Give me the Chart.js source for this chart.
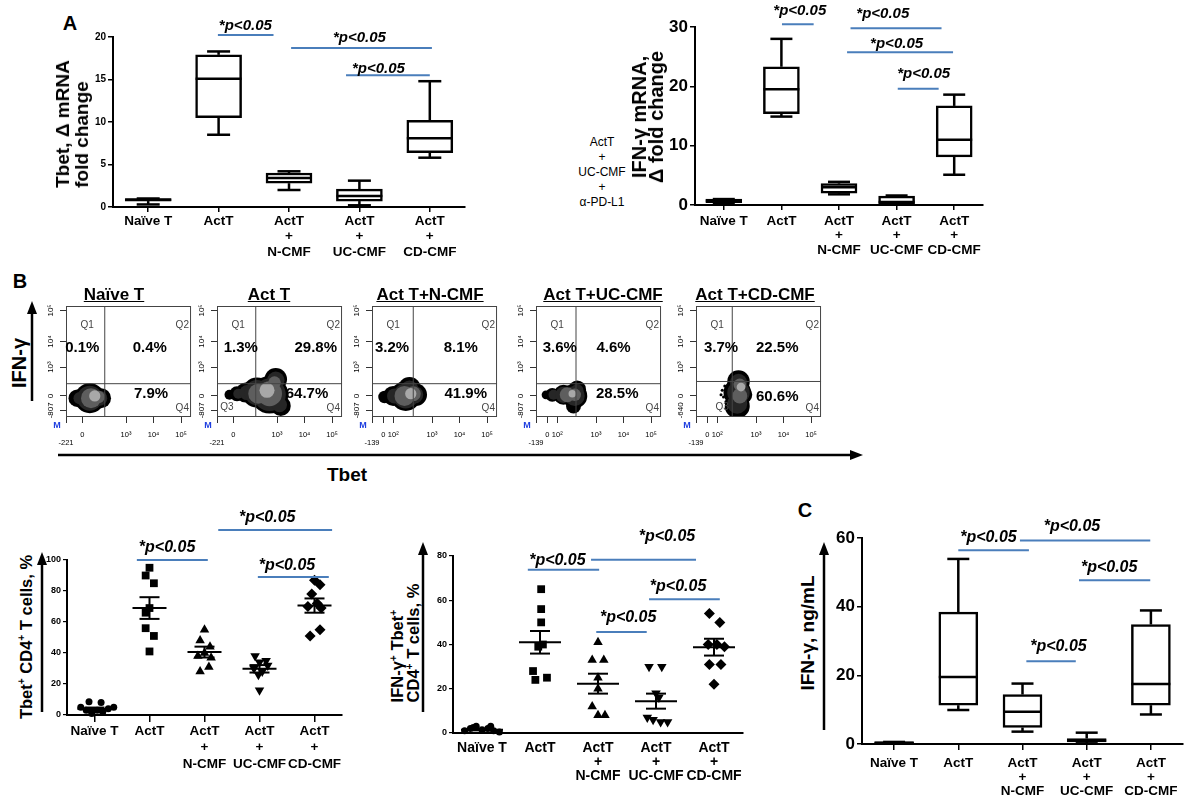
<!DOCTYPE html>
<html>
<head>
<meta charset="utf-8">
<title>Tbet / IFN-γ</title>
<script src="https://cdn.jsdelivr.net/npm/chart.js@4.4.1/dist/chart.umd.min.js"></script>
<style>
html, body { margin: 0; padding: 0; background: #fff; }
#page { position: relative; width: 1192px; height: 805px; overflow: hidden; font-family: "Liberation Sans", Arial, sans-serif; }
#page canvas { position: absolute; }
svg { position: absolute; left: 0; top: 0; }
.lbl { position: absolute; white-space: nowrap; font-weight: bold; color: #000; text-align: center; transform: translate(-50%, -50%); }
.rot { transform: translate(-50%, -50%) rotate(-90deg); }
.lbl sup { font-size: 62%; line-height: 0; }
</style>
</head>
<body>
<div id="page">
  <svg width="1192" height="805">
    <g stroke="#000" stroke-width="2.5" fill="none">
      <line x1="32" y1="401" x2="32" y2="312"/>
      <line x1="58" y1="455" x2="852" y2="455"/>
      <line x1="42" y1="712" x2="42" y2="563"/>
      <line x1="423" y1="712" x2="423" y2="553"/>
      <line x1="824" y1="730" x2="824" y2="553"/>
    </g>
    <g fill="#000">
      <polygon points="27,314 32,301 37,314"/>
      <polygon points="850,450 863,455 850,460"/>
      <polygon points="37,565 42,552 47,565"/>
      <polygon points="418,555 423,542 428,555"/>
      <polygon points="819,555 824,542 829,555"/>
    </g>
  </svg>
  <canvas id="aTbet"></canvas>
  <canvas id="aIfn"></canvas>
  <canvas id="f0"></canvas>
  <canvas id="f1"></canvas>
  <canvas id="f2"></canvas>
  <canvas id="f3"></canvas>
  <canvas id="f4"></canvas>
  <canvas id="bTbet"></canvas>
  <canvas id="bIfn"></canvas>
  <canvas id="cIfn"></canvas>
</div>
<script>
// ---- data ----
const groupLabels = [['Naïve T'], ['ActT'], ['ActT', '+', 'N-CMF'], ['ActT', '+', 'UC-CMF'], ['ActT', '+', 'CD-CMF']];
const sigText = '*p<0.05';

// A left: Tbet mRNA fold change (box plots)
const tbetMin = [0.3, 8.5, 2.0, 0.2, 5.8];
const tbetQ1  = [0.7, 10.5, 2.8, 0.7, 6.4];
const tbetMed = [0.85, 15.1, 3.4, 1.3, 8.1];
const tbetQ3  = [1.0, 17.9, 4.0, 2.1, 10.2];
const tbetMax = [1.0, 18.3, 4.2, 3.1, 14.8];

// A right: IFN-γ mRNA fold change
const ifnMin = [0.2, 14.9, 1.8, 0.1, 5.1];
const ifnQ1  = [0.4, 15.4, 2.0, 0.1, 8.1];
const ifnMed = [0.7, 19.5, 3.0, 0.5, 11.0];
const ifnQ3  = [1.0, 23.3, 3.6, 1.5, 16.7];
const ifnMax = [1.0, 28.0, 3.9, 1.6, 18.6];

// C: IFN-γ ng/mL
const cMin = [0.2, 9.9, 3.6, 0.2, 8.6];
const cQ1  = [0.3, 11.3, 4.8, 0.6, 11.3];
const cMed = [0.4, 19.5, 9.4, 1.0, 17.5];
const cQ3  = [0.6, 38.4, 14.4, 1.6, 34.8];
const cMax = [0.6, 53.9, 17.6, 3.3, 38.9];

// B bottom left: Tbet+ CD4+ T cells, %
const tbetPct = [
  [8.5, 8, 5, 4, 3, 3, 2, 1, 5],
  [95, 90, 85, 69, 66, 56, 51, 41],
  [55, 48, 44, 40, 38, 37, 31, 28],
  [38, 35, 34, 32, 30, 28, 26, 16],
  [87, 84, 78, 72, 70, 69, 55, 51]
];
const tbetSpread = [
  [-0.1, 0.12, -0.25, 0.25, -0.15, 0.05, 0.15, -0.05, 0.35],
  [0, -0.07, 0.08, 0, -0.07, -0.07, 0.08, 0],
  [0, -0.08, 0.1, 0, -0.12, 0.12, 0.08, -0.08],
  [-0.08, 0.12, 0, 0.15, -0.1, 0.05, -0.02, 0],
  [0, 0.1, -0.05, 0.05, -0.12, 0.12, 0.1, -0.08]
];
const tbetMean = [3.9, 69, 40.6, 29.8, 70.6];
const tbetSem  = [0.9, 7.0, 3.5, 2.4, 4.6];

// B bottom middle: IFN-γ+ Tbet+ CD4+ T cells, %
const dblPct = [
  [1, 2, 3, 1.5, 2, 1, 0.5, 2.5, 3],
  [65, 56, 50, 40, 39, 28, 25, 24],
  [41, 33, 33, 25, 20, 12, 8, 8],
  [30, 30, 18, 16, 7, 6, 5, 5],
  [54, 50, 40, 40, 39, 31, 31, 22]
];
const dblSpread = [
  [-0.3, -0.2, -0.1, 0, 0.1, 0.2, 0.3, -0.15, 0.15],
  [0.02, 0.02, 0.02, 0.05, -0.03, -0.12, 0.12, -0.08],
  [0, -0.1, 0.1, 0, 0, -0.1, 0, 0.12],
  [-0.12, 0.1, 0, 0.05, -0.15, -0.05, 0.08, 0.2],
  [-0.08, 0.1, -0.1, 0.05, 0.18, -0.08, 0.12, 0]
];
const dblMean = [1.5, 41, 22.3, 14.4, 38.8];
const dblSem  = [0.3, 5.1, 4.5, 3.4, 3.8];

// significance bars: [from, to, bar value, text position, text baseline value]
const sigTbet = [[0.99, 1.78, 20.24, 1.38, 20.82], [2.03, 4.03, 18.7, 3.0, 19.45], [2.81, 4.0, 15.5, 3.27, 15.8]];
const sigIfn  = [[1.01, 1.56, 30.45, 1.32, 32.0], [2.2, 3.78, 29.8, 2.76, 31.5], [2.14, 3.98, 25.75, 3.0, 26.4], [3.02, 3.73, 19.6, 3.47, 21.35]];
const sigBTbet = [[0.77, 2.06, 100, 1.32, 105.2], [2.25, 4.32, 119.4, 3.14, 124.5], [2.97, 4.26, 89, 3.5, 93.5]];
const sigBDbl  = [[0.79, 2.02, 73.8, 1.3, 75.9], [1.88, 3.69, 78.3, 3.19, 87], [2.88, 4.1, 60.5, 3.38, 64.2], [1.97, 2.84, 45.6, 2.52, 50.1]];
const sigC     = [[1.0, 2.1, 56.4, 1.47, 58.8], [1.96, 3.99, 59.3, 2.77, 62.0], [2.88, 3.99, 47.7, 3.35, 50.1], [2.06, 2.83, 24.1, 2.56, 27.1]];

// B top: flow plots (axis units 0-100 of the plot frame)
const flowTitles = ['Naïve T', 'Act T', 'Act T+N-CMF', 'Act T+UC-CMF', 'Act T+CD-CMF'];
const flowQ1 = [0.1, 1.3, 3.2, 3.6, 3.7];
const flowQ2 = [0.4, 29.8, 8.1, 4.6, 22.5];
const flowQ4 = [7.9, 64.7, 41.9, 28.5, 60.6];
const flowGateX = [31, 31, 33, 32, 29];
const flowGateY = [30, 30, 30, 30, 32];
const flowXTickVals = [[0, 13, 48, 70, 92], [0, 13, 48, 70, 92], [0, 9, 17, 48, 70, 92], [0, 9, 17, 48, 70, 92], [0, 9, 17, 48, 70, 92]];
const flowXTickText = [['-221', '0', '10³', '10⁴', '10⁵'], ['-221', '0', '10³', '10⁴', '10⁵'],
  ['-139', '0', '10²', '10³', '10⁴', '10⁵'], ['-139', '0', '10²', '10³', '10⁴', '10⁵'], ['-139', '0', '10²', '10³', '10⁴', '10⁵']];
const flowYTickVals = [6, 19, 45, 68, 96];
const flowYTickText = [['-807', '0', '10³', '10⁴', '10⁵'], ['-807', '0', '10³', '10⁴', '10⁵'], ['-807', '0', '10³', '10⁴', '10⁵'],
  ['-807', '0', '10³', '10⁴', '10⁵'], ['-640', '0', '10³', '10⁴', '10⁵']];
// event clouds: [x, y, spread]
const cloudEdge = [
  [[9, 17, 7], [19, 17, 12], [28, 17, 8]],
  [[10, 20, 4], [16, 21, 6], [23, 22, 8], [32, 22, 12], [42, 20, 15], [47, 34, 9], [51, 10, 8]],
  [[10, 18, 5], [17, 19, 8], [27, 19, 12], [35, 20, 9], [30, 26, 9]],
  [[8, 20, 3.5], [13, 20, 5.5], [22, 20, 8], [31, 19, 10], [33, 25, 7], [30, 10, 6]],
  [[33, 10, 10], [33, 22, 11], [34, 32, 9], [38, 20, 7], [22, 18, 1.2], [21, 24, 1.2], [23, 28, 1.2], [20, 20, 1.2], [24, 14, 1.2]]
];
const cloudMid = [
  [[19, 17, 10], [11, 17, 5], [27, 17, 6]],
  [[17, 21, 4], [24, 22, 6], [32, 22, 10], [42, 20, 13], [47, 33, 7], [50, 11, 6]],
  [[18, 19, 6], [27, 19, 10], [34, 20, 7], [30, 25, 7]],
  [[14, 20, 4], [22, 20, 6.5], [31, 19, 8], [33, 24, 5]],
  [[33, 12, 8], [34, 22, 9], [34, 31, 7]]
];
const cloudCore = [
  [[20, 17, 8], [26, 18, 5]],
  [[33, 21, 8], [42, 21, 10], [46, 31, 5]],
  [[26, 19, 8], [33, 21, 6]],
  [[25, 20, 6], [31, 20, 5]],
  [[35, 19, 6], [35, 29, 5]]
];
const cloudLight = [
  [[23, 19, 4.5]],
  [[40, 24, 6]],
  [[31, 21, 4.5]],
  [[29, 21, 3]],
  [[36, 27, 3.5]]
];

// ---- styling / layout ----
const SANS = '"Liberation Sans", Arial, sans-serif';
const BLUE = '#4a7ebb';
const cloudColors = ['#000', '#262626', '#5e5e5e', '#a8a8a8'];
const markerStyle = ['circle', 'rect', 'triangle', 'triangle', 'rectRot'];
const markerRot = [0, 0, 0, 180, 0];
const markerSize = [3.5, 5.5, 5.5, 5.5, 5.5];
const flowLeft = [66, 217, 372, 536, 696];
const flowTitleX = [114, 269, 430, 603, 755];
const pctX = { q1: [13, 19, 16, 19, 20], q2: [67, 79, 71, 62, 65], q4: [68, 72, 75, 65, 65] };
const pctY = { top: 62, bottom: [21, 21, 21, 21, 18] };
const q3X = [null, 8, null, null, 21];

Chart.defaults.font.family = SANS;
Chart.defaults.color = '#000';

function seg(ctx, x1, y1, x2, y2) {
  ctx.beginPath(); ctx.moveTo(x1, y1); ctx.lineTo(x2, y2); ctx.stroke();
}

function place(id, g) {
  const cv = document.getElementById(id);
  const W = g.r - g.l + g.yw + g.pr, H = g.b - g.t + g.pt + g.xh;
  cv.width = W; cv.height = H;
  cv.style.width = W + 'px'; cv.style.height = H + 'px';
  cv.style.left = (g.l - g.yw) + 'px'; cv.style.top = (g.t - g.pt) + 'px';
  return cv;
}

function sigBars(items, size) {
  return { id: 'sig', afterDraw(chart) {
    const { ctx, scales: { x, y } } = chart;
    ctx.save();
    ctx.strokeStyle = BLUE; ctx.lineWidth = 2;
    ctx.fillStyle = '#000';
    ctx.font = `italic bold ${size}px ${SANS}`;
    ctx.textAlign = 'center'; ctx.textBaseline = 'alphabetic';
    items.forEach(([x1, x2, yl, tx, ty]) => {
      const p = y.getPixelForValue(yl);
      seg(ctx, x.getPixelForValue(x1), p, x.getPixelForValue(x2), p);
      ctx.fillText(sigText, x.getPixelForValue(tx), y.getPixelForValue(ty));
    });
    ctx.restore();
  }};
}

function whiskers(st, bw, cap, lw) {
  return { id: 'whisk', afterDatasetsDraw(chart) {
    const { ctx, scales: { x, y } } = chart;
    const py = v => y.getPixelForValue(v);
    ctx.save(); ctx.strokeStyle = '#000'; ctx.lineWidth = lw;
    st.med.forEach((m, i) => {
      const cx = x.getPixelForValue(i);
      seg(ctx, cx, py(st.q3[i]), cx, py(st.max[i]));
      seg(ctx, cx - cap / 2, py(st.max[i]), cx + cap / 2, py(st.max[i]));
      seg(ctx, cx, py(st.q1[i]), cx, py(st.min[i]));
      seg(ctx, cx - cap / 2, py(st.min[i]), cx + cap / 2, py(st.min[i]));
      seg(ctx, cx - bw / 2, py(m), cx + bw / 2, py(m));
    });
    ctx.restore();
  }};
}

function meanSem(mean, sem, mw, cw) {
  return { id: 'meanSem', afterDatasetsDraw(chart) {
    const { ctx, scales: { x, y } } = chart;
    ctx.save(); ctx.strokeStyle = '#000'; ctx.lineWidth = 2;
    mean.forEach((m, i) => {
      const cx = x.getPixelForValue(i);
      const ym = y.getPixelForValue(m), yt = y.getPixelForValue(m + sem[i]), yb = y.getPixelForValue(m - sem[i]);
      seg(ctx, cx - mw / 2, ym, cx + mw / 2, ym);
      seg(ctx, cx, yt, cx, yb);
      seg(ctx, cx - cw / 2, yt, cx + cw / 2, yt);
      seg(ctx, cx - cw / 2, yb, cx + cw / 2, yb);
    });
    ctx.restore();
  }};
}

function boxChart(id, g, st, o) {
  const cv = place(id, g);
  new Chart(cv, {
    type: 'bar',
    data: { labels: groupLabels, datasets: [{
      data: st.q1.map((v, i) => [v, st.q3[i]]),
      backgroundColor: '#fff', borderColor: '#000', borderWidth: o.lw, borderSkipped: false, barThickness: o.bw
    }]},
    options: {
      responsive: false, animation: false, events: [],
      layout: { padding: { left: 0, right: g.pr, top: g.pt, bottom: 0 } },
      plugins: { legend: { display: false }, tooltip: { enabled: false } },
      scales: {
        x: {
          afterFit: s => { s.height = g.xh; },
          grid: { drawOnChartArea: false, offset: false, tickLength: o.xtick, color: '#000', lineWidth: 1.5 },
          border: { color: '#000', width: o.axw },
          ticks: { color: '#000', font: o.xfont, padding: o.xpad, maxRotation: 0, autoSkip: false }
        },
        y: {
          min: 0, max: o.max,
          afterFit: s => { s.width = g.yw; },
          ticks: { stepSize: o.step, color: '#000', font: o.yfont, padding: 2 },
          grid: { drawOnChartArea: false, tickLength: 5, color: '#000', lineWidth: 1.5 },
          border: { color: '#000', width: o.axw }
        }
      }
    },
    plugins: [whiskers(st, o.bw, o.cap, o.lw), sigBars(o.sig, o.sigSize)]
  });
}

function dotChart(id, g, vals, spread, mean, sem, o) {
  const cv = place(id, g);
  new Chart(cv, {
    type: 'scatter',
    data: { datasets: vals.map((arr, k) => ({
      data: arr.map((v, j) => ({ x: k + spread[k][j], y: v })),
      pointStyle: markerStyle[k], pointRotation: markerRot[k], pointRadius: markerSize[k],
      pointBackgroundColor: '#000', pointBorderColor: '#000', pointBorderWidth: 0, clip: false
    }))},
    options: {
      responsive: false, animation: false, events: [],
      layout: { padding: { left: 0, right: g.pr, top: g.pt, bottom: 0 } },
      plugins: { legend: { display: false }, tooltip: { enabled: false } },
      scales: {
        x: {
          type: 'linear', min: -0.5, max: 4.5,
          afterBuildTicks: s => { s.ticks = groupLabels.map((_, k) => ({ value: k })); },
          afterFit: s => { s.height = g.xh; },
          ticks: { autoSkip: false, maxRotation: 0, padding: o.xpad, callback: (v, k) => groupLabels[k], font: o.xfont, color: '#000' },
          grid: { drawOnChartArea: false, drawTicks: o.xtick > 0, tickLength: o.xtick, color: '#000', lineWidth: 1.5 },
          border: { color: '#000', width: 2 }
        },
        y: {
          min: 0, max: o.max,
          afterFit: s => { s.width = g.yw; },
          ticks: { stepSize: 20, font: o.yfont, color: '#000', padding: 2 },
          grid: { drawOnChartArea: false, tickLength: 4, color: '#000', lineWidth: 1.2 },
          border: { color: '#000', width: 2 }
        }
      }
    },
    plugins: [meanSem(mean, sem, o.mw, o.cw), sigBars(o.sig, o.sigSize)]
  });
}

function flowDeco(i) {
  return { id: 'flowDeco', afterDraw(chart) {
    const { ctx, chartArea: a, scales: { x, y } } = chart;
    const px = v => x.getPixelForValue(v), py = v => y.getPixelForValue(v);
    ctx.save();
    ctx.strokeStyle = '#444'; ctx.lineWidth = 1;
    ctx.strokeRect(a.left + 0.5, a.top + 0.5, a.width - 1, a.height - 1);
    seg(ctx, px(flowGateX[i]), a.top, px(flowGateX[i]), a.bottom);
    seg(ctx, a.left, py(flowGateY[i]), a.right, py(flowGateY[i]));
    ctx.textAlign = 'center'; ctx.textBaseline = 'middle';
    ctx.fillStyle = '#444'; ctx.font = `10px ${SANS}`;
    ctx.fillText('Q1', px(17), py(83));
    ctx.fillText('Q2', px(93), py(83));
    ctx.fillText('Q4', px(93), py(8));
    if (q3X[i] !== null) ctx.fillText('Q3', px(q3X[i]), py(9));
    ctx.fillStyle = '#000'; ctx.font = `bold 15px ${SANS}`;
    ctx.fillText(flowQ1[i].toFixed(1) + '%', px(pctX.q1[i]), py(pctY.top));
    ctx.fillText(flowQ2[i].toFixed(1) + '%', px(pctX.q2[i]), py(pctY.top));
    ctx.fillText(flowQ4[i].toFixed(1) + '%', px(pctX.q4[i]), py(pctY.bottom[i]));
    ctx.font = `8px ${SANS}`;
    flowYTickVals.forEach((v, k) => {
      ctx.save();
      ctx.translate(a.left - 15, py(v));
      ctx.rotate(-Math.PI / 2);
      ctx.fillText(flowYTickText[i][k], 0, 0);
      ctx.restore();
    });
    ctx.fillStyle = '#1f3fe0'; ctx.font = `bold 9px ${SANS}`;
    ctx.fillText('M', a.left - 9, a.bottom + 9);
    ctx.restore();
  }};
}

function flowChart(i) {
  const l = flowLeft[i];
  const g = { l, r: l + 126, t: 306, b: 417, yw: 24, xh: 36, pt: 3, pr: 3 };
  const cv = place('f' + i, g);
  // Chart.js paints dataset 0 on top, so the lightest layer comes first
  const layers = [cloudLight, cloudCore, cloudMid, cloudEdge];
  const shades = cloudColors.slice().reverse();
  const rad = c => {
    if (!c.raw) return 0;
    const sx = c.chart.scales.x;
    return Math.abs(sx.getPixelForValue(c.raw.s) - sx.getPixelForValue(0));
  };
  new Chart(cv, {
    type: 'scatter',
    data: { datasets: layers.map((L, k) => ({
      data: L[i].map(([x, y, s]) => ({ x, y, s })),
      pointRadius: rad, pointBackgroundColor: shades[k], pointBorderWidth: 0, clip: 0
    }))},
    options: {
      responsive: false, animation: false, events: [],
      layout: { padding: { left: 0, right: g.pr, top: g.pt, bottom: 0 } },
      plugins: { legend: { display: false }, tooltip: { enabled: false } },
      scales: {
        x: {
          min: 0, max: 100,
          afterBuildTicks: s => { s.ticks = flowXTickVals[i].map(v => ({ value: v })); },
          afterFit: s => { s.height = g.xh; },
          ticks: { autoSkip: false, maxRotation: 0, padding: 8, font: { size: 7.5, lineHeight: 1.1 }, color: '#000',
                   callback: (v, k) => k === 0 ? ['', flowXTickText[i][k]] : flowXTickText[i][k] },
          grid: { drawOnChartArea: false, tickLength: 6, color: '#333' },
          border: { display: false }
        },
        y: {
          min: 0, max: 100,
          afterBuildTicks: s => { s.ticks = flowYTickVals.map(v => ({ value: v })); },
          afterFit: s => { s.width = g.yw; },
          ticks: { display: false },
          grid: { drawOnChartArea: false, tickLength: 6, color: '#333' },
          border: { display: false }
        }
      }
    },
    plugins: [flowDeco(i)]
  });
}

// ---- charts ----
boxChart('aTbet', { l: 113, r: 465, t: 37, b: 207, yw: 30, xh: 52, pt: 32, pr: 8 },
  { min: tbetMin, q1: tbetQ1, med: tbetMed, q3: tbetQ3, max: tbetMax },
  { max: 20, step: 5, bw: 46, cap: 23, lw: 2.5, axw: 2, xtick: 5, xpad: 2, sig: sigTbet, sigSize: 15,
    xfont: { family: SANS, size: 13.5, weight: 'bold', lineHeight: 1.12 },
    yfont: { family: SANS, size: 10, weight: 'bold' } });

boxChart('aIfn', { l: 695, r: 983, t: 27, b: 205, yw: 36, xh: 54, pt: 26, pr: 8 },
  { min: ifnMin, q1: ifnQ1, med: ifnMed, q3: ifnQ3, max: ifnMax },
  { max: 30, step: 10, bw: 36, cap: 22, lw: 2.5, axw: 2, xtick: 5, xpad: 4, sig: sigIfn, sigSize: 15,
    xfont: { family: SANS, size: 13.5, weight: 'bold', lineHeight: 1.07 },
    yfont: { family: SANS, size: 17, weight: 'bold' } });

dotChart('bTbet', { l: 67, r: 342, t: 560, b: 715, yw: 24, xh: 60, pt: 56, pr: 8 },
  tbetPct, tbetSpread, tbetMean, tbetSem,
  { max: 100, xtick: 7, xpad: 1, mw: 34, cw: 20, sig: sigBTbet, sigSize: 16,
    xfont: { family: SANS, size: 13.5, weight: 'bold', lineHeight: 1.22 },
    yfont: { family: SANS, size: 9, weight: 'bold' } });

dotChart('bIfn', { l: 453, r: 743, t: 556, b: 733, yw: 22, xh: 60, pt: 36, pr: 8 },
  dblPct, dblSpread, dblMean, dblSem,
  { max: 80, xtick: 0, xpad: 8, mw: 42, cw: 20, sig: sigBDbl, sigSize: 16,
    xfont: { family: SANS, size: 14, weight: 'bold', lineHeight: 1.0 },
    yfont: { family: SANS, size: 9, weight: 'bold' } });

boxChart('cIfn', { l: 862, r: 1183, t: 538, b: 744, yw: 34, xh: 58, pt: 24, pr: 6 },
  { min: cMin, q1: cQ1, med: cMed, q3: cQ3, max: cMax },
  { max: 60, step: 20, bw: 39, cap: 22, lw: 2.5, axw: 2, xtick: 6, xpad: 6, sig: sigC, sigSize: 16,
    xfont: { family: SANS, size: 13.5, weight: 'bold', lineHeight: 1.04 },
    yfont: { family: SANS, size: 17, weight: 'bold' } });

flowTitles.forEach((_, i) => flowChart(i));

// ---- text ----
const page = document.getElementById('page');
function label(html, cx, cy, o) {
  const d = document.createElement('div');
  d.className = 'lbl' + (o.rot ? ' rot' : '');
  d.innerHTML = html;
  d.style.left = cx + 'px'; d.style.top = cy + 'px';
  d.style.fontSize = o.size + 'px';
  d.style.lineHeight = (o.lh || Math.round(o.size * 1.15)) + 'px';
  if (o.normal) d.style.fontWeight = 'normal';
  if (o.align) d.style.textAlign = o.align;
  if (o.underline) d.style.textDecoration = 'underline';
  page.appendChild(d);
}
label('A', 70, 23, { size: 20 });
label('Tbet, Δ mRNA<br>fold change', 72, 124, { size: 19, lh: 19, rot: true, align: 'left' });
label('ActT<br>+<br>UC-CMF<br>+<br>α-PD-L1', 602, 172, { size: 12, lh: 15, normal: true });
label('IFN-γ mRNA,<br>Δ fold change', 648, 117, { size: 20, lh: 17, rot: true });
label('B', 20, 281, { size: 20 });
label('IFN-γ', 19, 363, { size: 20, rot: true });
label('Tbet', 347, 475, { size: 19 });
flowTitles.forEach((t, i) => label(t, flowTitleX[i], 295, { size: 17, underline: true }));
label('Tbet<sup>+</sup> CD4<sup>+</sup> T cells, %', 26, 637, { size: 16.5, rot: true });
label('IFN-γ<sup>+</sup> Tbet<sup>+</sup><br>CD4<sup>+</sup> T cells, %', 405, 643, { size: 16.5, lh: 16, rot: true, align: 'left' });
label('C', 805, 510, { size: 20 });
label('IFN-γ, ng/mL', 808, 633, { size: 19, rot: true });
</script>
</body>
</html>
